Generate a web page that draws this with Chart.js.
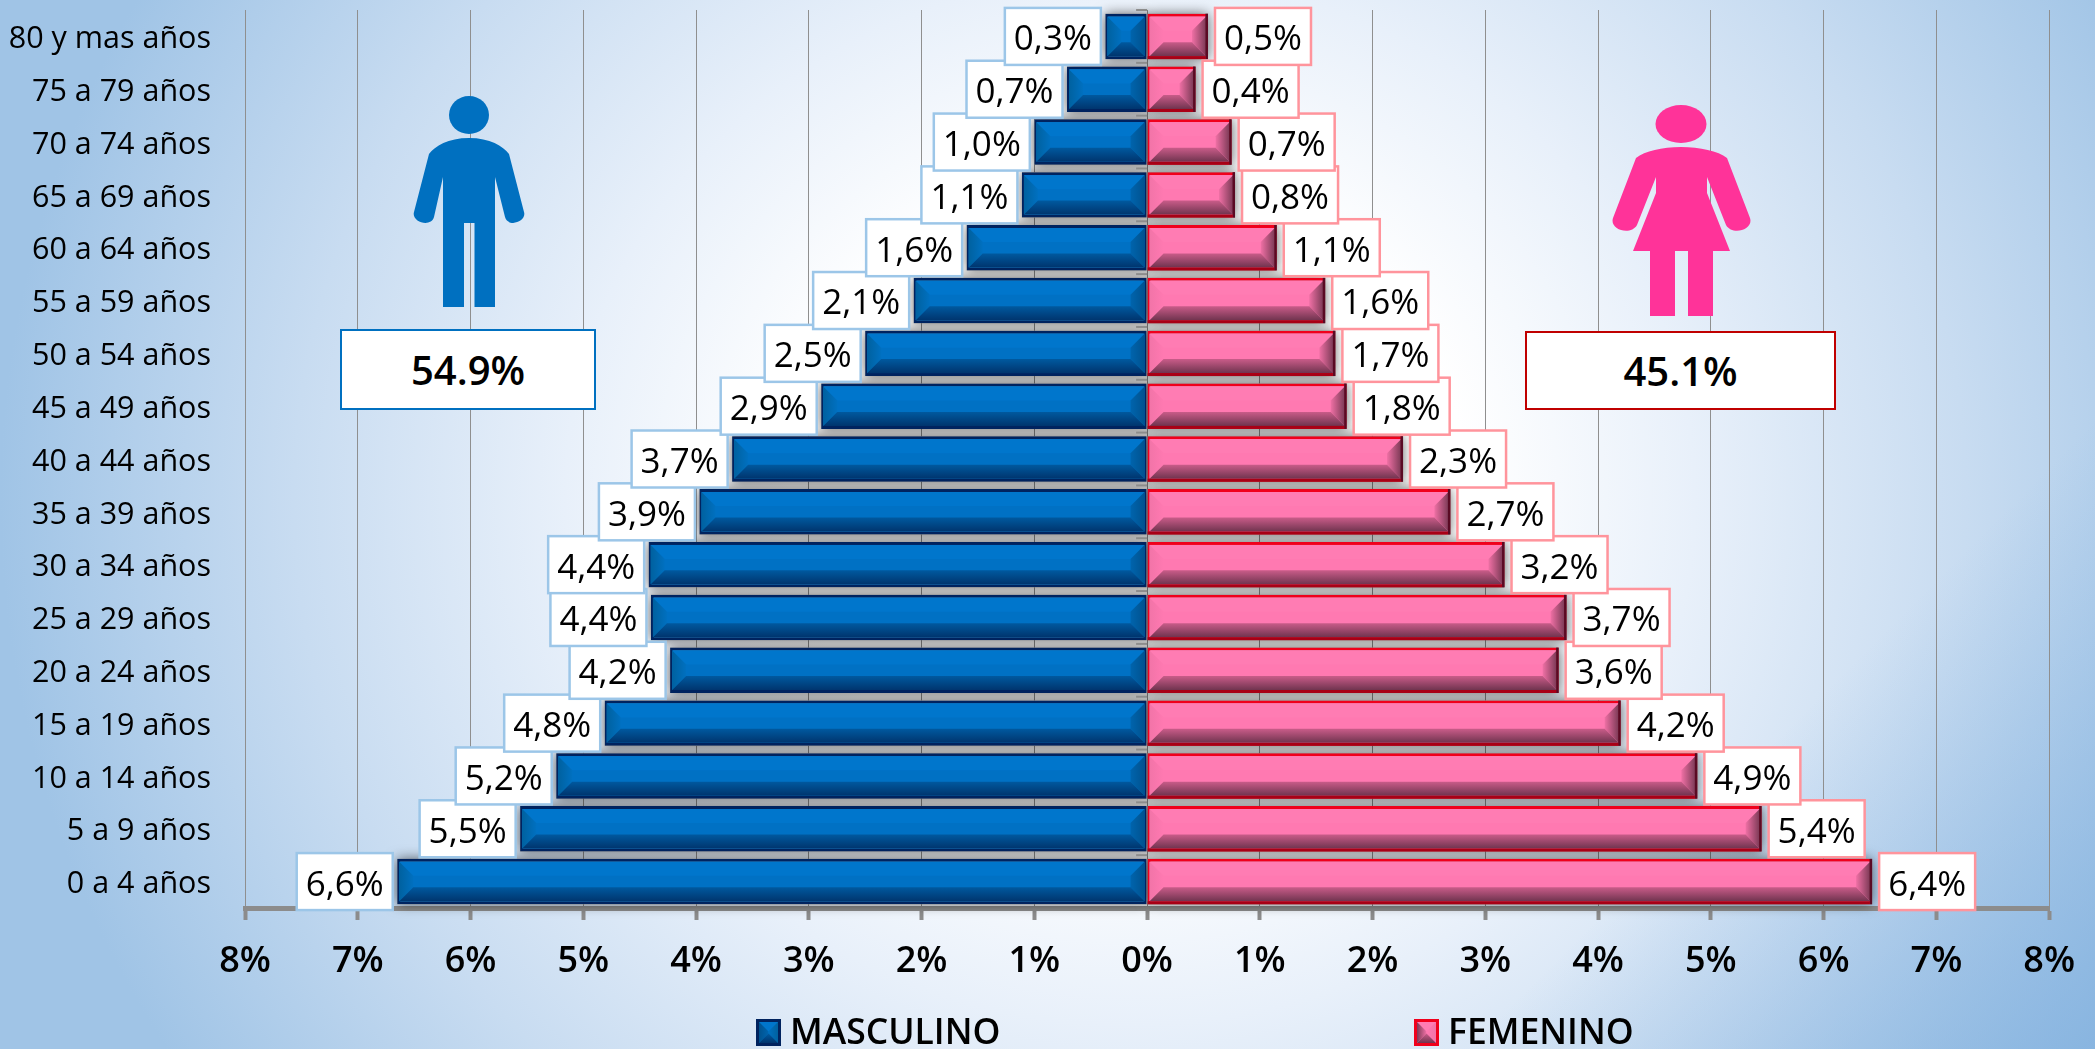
<!DOCTYPE html>
<html>
<head>
<meta charset="utf-8">
<title>Pirámide de población</title>
<script src="https://cdn.jsdelivr.net/npm/chart.js@4"></script>
<style>
  html, body { margin: 0; padding: 0; }
  body {
    width: 2095px; height: 1049px; position: relative; overflow: hidden;
    background:
      linear-gradient(135deg, rgba(127,175,222,0) 80%, rgba(127,175,222,0.7) 100%),
      radial-gradient(ellipse 1130px 1050px at 1130px 500px, #fff 0%, #fff 30%, #e8f0fa 50%, #c8dcf1 74%, #a0c4e6 100%);
  }
  canvas { position: absolute; left: 0; top: 0; }
  #icons { position: absolute; left: 0; top: 0; }
  .total {
    position: absolute; box-sizing: border-box; background: #fff;
    font: 600 40px "Open Sans", sans-serif; color: #000;
    display: flex; align-items: center; justify-content: center;
  }
  #totalM { left: 340px; top: 329px; width: 256px; height: 81px; border: 2px solid #0070c0; }
  #totalF { left: 1525px; top: 331px; width: 311px; height: 79px; border: 2px solid #c00000; }
</style>
</head>
<body>
<canvas id="pyramid" width="2095" height="1049"></canvas>
<svg id="icons" width="2095" height="1049" viewBox="0 0 2095 1049">
  <ellipse cx="469" cy="115" rx="20" ry="19" fill="#0070c0"/>
  <path fill="#0070c0" d="M469 138 C490 138 503 146 509 154 L524 212 C527 222 508 228 505 217 L495 177 V307 H474.5 V223 H464 V307 H443 V177 L434 217 C431 228 411 222 414 212 L429 154 C435 146 448 138 469 138 Z"/>
  <ellipse cx="1681" cy="124" rx="25.5" ry="19" fill="#ff3399"/>
  <path fill="#ff3399" d="M1681 147 C1700 147 1718 151 1727 158 L1750 218 C1754 230 1732 236 1726 225 L1707 177 V193 L1730 251 H1713 V316 H1688 V251 H1675 V316 H1650 V251 H1633 L1656 193 V177 L1637 225 C1631 236 1609 230 1613 218 L1636 158 C1645 151 1662 147 1681 147 Z"/>
</svg>
<div class="total" id="totalM">54.9%</div>
<div class="total" id="totalF">45.1%</div>

<script>
// Age groups, top of the pyramid first
const categories = ['80 y mas años', '75 a 79 años', '70 a 74 años', '65 a 69 años', '60 a 64 años',
  '55 a 59 años', '50 a 54 años', '45 a 49 años', '40 a 44 años', '35 a 39 años', '30 a 34 años',
  '25 a 29 años', '20 a 24 años', '15 a 19 años', '10 a 14 años', '5 a 9 años', '0 a 4 años'];

// Bar lengths (men go left, so negative)
const masculino = [-0.37, -0.71, -1.0, -1.11, -1.6, -2.07, -2.5, -2.89, -3.68, -3.97, -4.42, -4.4, -4.23, -4.81, -5.24, -5.56, -6.65];
const femenino = [0.54, 0.43, 0.75, 0.78, 1.15, 1.58, 1.67, 1.77, 2.27, 2.69, 3.17, 3.72, 3.65, 4.2, 4.88, 5.45, 6.43];

// Labels printed next to the bars
const labelsMasculino = ['0,3%', '0,7%', '1,0%', '1,1%', '1,6%', '2,1%', '2,5%', '2,9%', '3,7%', '3,9%', '4,4%', '4,4%', '4,2%', '4,8%', '5,2%', '5,5%', '6,6%'];
const labelsFemenino = ['0,5%', '0,4%', '0,7%', '0,8%', '1,1%', '1,6%', '1,7%', '1,8%', '2,3%', '2,7%', '3,2%', '3,7%', '3,6%', '4,2%', '4,9%', '5,4%', '6,4%'];

const FONT = '"Open Sans", sans-serif';

const paletteM = {
  border: '#00235f', face: '#0071c4', top: '#0076cc', bottomA: '#00599f', bottomB: '#00356e',
  outerA: '#0070c0', outerB: '#00619f', innerA: '#0064ad', innerB: '#00528f', box: '#9cc6e8'
};
const paletteF = {
  border: '#f0001c', face: '#ff79b1', top: '#ff7cb3', bottomA: '#c95c89', bottomB: '#70344f',
  outerA: '#ef70a5', outerB: '#7c3a56', innerA: '#ff79b1', innerB: '#f274a8', box: '#ff949c'
};

// Paints the bevel of a bar. outerLeft says on which side the free end is
function bevel(ctx, x0, x1, y0, y1, p, outerLeft) {
  const d = Math.min(14, (x1 - x0) / 2, (y1 - y0) / 2);
  const poly = (pts, fill) => {
    ctx.fillStyle = fill;
    ctx.beginPath();
    pts.forEach((q, i) => (i ? ctx.lineTo(q[0], q[1]) : ctx.moveTo(q[0], q[1])));
    ctx.closePath();
    ctx.fill();
  };
  ctx.fillStyle = p.face;
  ctx.fillRect(x0, y0, x1 - x0, y1 - y0);
  poly([[x0, y0], [x1, y0], [x1 - d, y0 + d], [x0 + d, y0 + d]], p.top);
  // side pieces fade towards the edge of the bar
  const left = ctx.createLinearGradient(x0 + d, 0, x0, 0);
  left.addColorStop(0, outerLeft ? p.outerA : p.innerA);
  left.addColorStop(1, outerLeft ? p.outerB : p.innerB);
  poly([[x0, y0], [x0 + d, y0 + d], [x0 + d, y1 - d], [x0, y1]], left);
  const right = ctx.createLinearGradient(x1 - d, 0, x1, 0);
  right.addColorStop(0, outerLeft ? p.innerA : p.outerA);
  right.addColorStop(1, outerLeft ? p.innerB : p.outerB);
  poly([[x1, y0], [x1 - d, y0 + d], [x1 - d, y1 - d], [x1, y1]], right);
  const grad = ctx.createLinearGradient(0, y1 - d, 0, y1);
  grad.addColorStop(0, p.bottomA);
  grad.addColorStop(1, p.bottomB);
  poly([[x0, y1], [x1, y1], [x1 - d, y1 - d], [x0 + d, y1 - d]], grad);
}

const pyramidPlugin = {
  id: 'pyramid',
  // grey shadow behind the bars and the small stubs on the zero line
  beforeDatasetsDraw(chart) {
    const { ctx, scales } = chart;
    ctx.save();
    ctx.shadowColor = 'rgba(0,0,0,0.6)';
    ctx.shadowBlur = 12;
    ctx.fillStyle = '#999';
    chart.data.datasets.forEach((ds, di) => {
      chart.getDatasetMeta(di).data.forEach(bar => {
        const a = Math.min(bar.x, bar.base), b = Math.max(bar.x, bar.base);
        ctx.fillRect(a, bar.y - bar.height / 2, b - a, bar.height);
      });
    });
    ctx.restore();
    const zero = scales.x.getPixelForValue(0);
    ctx.save();
    ctx.fillStyle = '#8c8c8c';
    categories.forEach((c, i) => {
      const y = scales.y.getPixelForValue(i) - (scales.y.getPixelForValue(1) - scales.y.getPixelForValue(0)) / 2;
      ctx.fillRect(zero - 11, y - 1, 11, 2);
    });
    ctx.restore();
  },
  afterDatasetsDraw(chart) {
    const { ctx } = chart;
    const sets = [
      { meta: chart.getDatasetMeta(0), p: paletteM, left: true, text: labelsMasculino },
      { meta: chart.getDatasetMeta(1), p: paletteF, left: false, text: labelsFemenino }
    ];
    sets.forEach(s => {
      s.meta.data.forEach(bar => {
        const a = Math.min(bar.x, bar.base), b = Math.max(bar.x, bar.base);
        const t = bar.y - bar.height / 2, u = bar.y + bar.height / 2;
        bevel(ctx, a + 2, b - 2, t + 3, u - 3, s.p, s.left);
        if (!s.left) {
          ctx.fillStyle = '#5a0a24';
          ctx.fillRect(b - 2.5, t, 2.5, u - t);
          ctx.fillStyle = '#a80016';
          ctx.fillRect(a, u - 3, b - a - 2.5, 3);
        }
      });
    });
    // value boxes, bottom row first so that upper boxes lie on top
    ctx.save();
    ctx.font = '35px ' + FONT;
    ctx.textBaseline = 'middle';
    ctx.textAlign = 'center';
    for (let i = categories.length - 1; i >= 0; i--) {
      sets.forEach(s => {
        const bar = s.meta.data[i];
        const w = ctx.measureText(s.text[i]).width + 18, h = 57;
        const x = s.left ? bar.x - 4.5 - w : bar.x + 7;
        ctx.fillStyle = '#fff';
        ctx.strokeStyle = s.p.box;
        ctx.lineWidth = 2.5;
        ctx.fillRect(x, bar.y - h / 2, w, h);
        ctx.strokeRect(x, bar.y - h / 2, w, h);
        ctx.fillStyle = '#000';
        ctx.fillText(s.text[i], x + w / 2, bar.y + 4);
      });
    }
    ctx.restore();
  },
  // legend far apart as in the original, so it is painted here
  afterDraw(chart) {
    const { ctx } = chart;
    const entries = [
      { x: 756, p: paletteM, left: true, ds: chart.data.datasets[0] },
      { x: 1414, p: paletteF, left: false, ds: chart.data.datasets[1] }
    ];
    ctx.save();
    ctx.font = '600 35.5px ' + FONT;
    ctx.textBaseline = 'alphabetic';
    ctx.textAlign = 'left';
    entries.forEach(e => {
      ctx.fillStyle = e.p.border;
      ctx.fillRect(e.x, 1019, 25, 27);
      bevel(ctx, e.x + 3, e.x + 22, 1022, 1043, e.p, !e.left);
      ctx.fillStyle = '#000';
      ctx.fillText(e.ds.label, e.x + 34, 1044);
    });
    ctx.restore();
  }
};

const ctx = document.getElementById('pyramid').getContext('2d');

new Chart(ctx, {
  type: 'bar',
  data: {
    labels: categories,
    datasets: [
      {
        label: 'MASCULINO',
        data: masculino,
        backgroundColor: paletteM.face,
        borderColor: paletteM.border,
        borderWidth: 3,
        borderSkipped: false,
        categoryPercentage: 1,
        barPercentage: 0.86,
      },
      {
        label: 'FEMENINO',
        data: femenino,
        backgroundColor: paletteF.face,
        borderColor: paletteF.border,
        borderWidth: 3,
        borderSkipped: false,
        categoryPercentage: 1,
        barPercentage: 0.86,
      },
    ],
  },
  plugins: [pyramidPlugin],
  options: {
    indexAxis: 'y',
    responsive: false,
    animation: false,
    layout: { padding: { top: 10, right: 45, bottom: 0, left: 0 } },
    plugins: {
      legend: { display: false },
      tooltip: { enabled: false },
    },
    scales: {
      x: {
        stacked: true,
        min: -8,
        max: 8,
        afterFit: (scale) => { scale.height = 141; scale.paddingTop = 0; scale.paddingBottom = 0; },
        grid: {
          color: '#8f8f8f',
          lineWidth: 1,
          tickColor: '#8c8c8c',
          tickWidth: 4,
          tickLength: 12,
        },
        border: { color: '#8c8c8c', width: 5 },
        ticks: {
          stepSize: 1,
          autoSkip: false,
          maxRotation: 0,
          padding: 20,
          color: '#000',
          font: { family: FONT, size: 36, weight: '600' },
          callback: (value) => `${Math.abs(value)}%`,
        },
      },
      y: {
        stacked: true,
        afterFit: (scale) => { scale.width = 245; scale.paddingTop = 0; scale.paddingBottom = 0; },
        grid: { display: false },
        border: { display: false },
        ticks: {
          padding: 26,
          labelOffset: 3,
          autoSkip: false,
          color: '#000',
          font: { family: FONT, size: 30.5 },
        },
      },
    },
  },
});
</script>
</body>
</html>
